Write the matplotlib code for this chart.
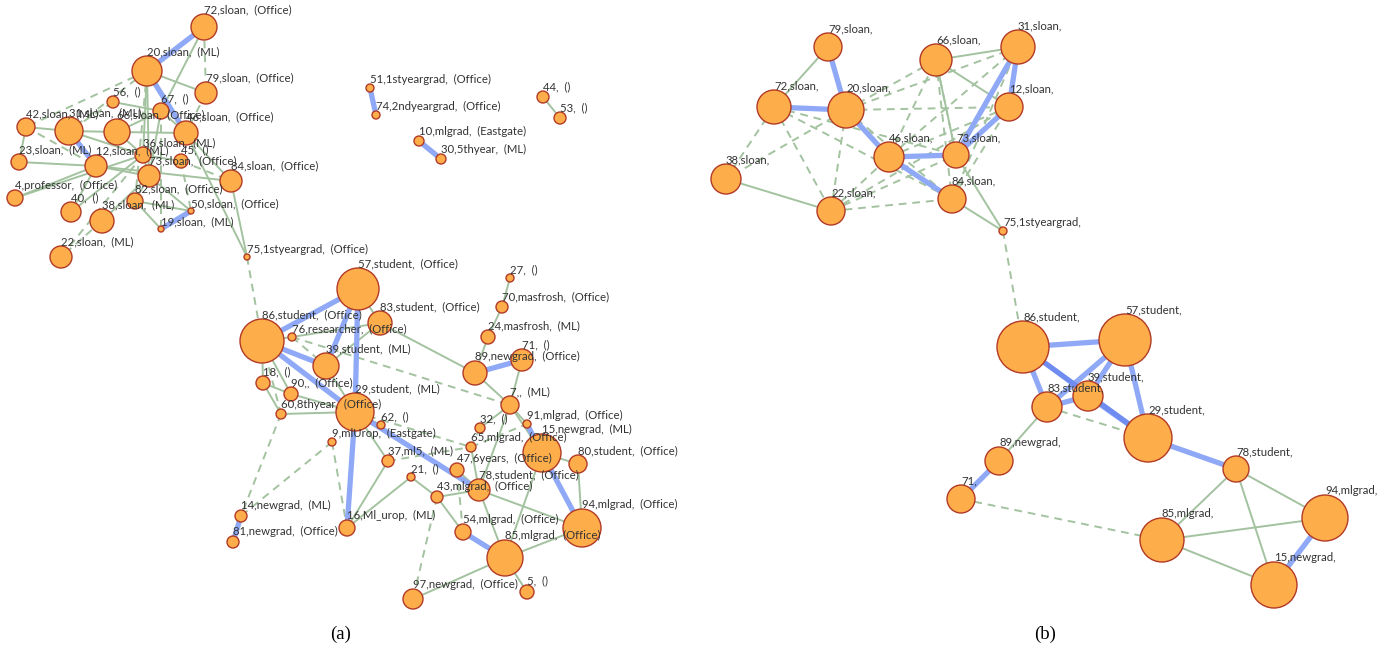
import matplotlib
matplotlib.use("Agg")
import matplotlib.pyplot as plt
from matplotlib.patches import Circle

W, H = 1396, 648

# ---------------- graph (a): all participants ----------------
a_ids = [72, 20, 79, 56, 67, 42, 31, 66, 46, 36, 45, 23, 12, 73, 84, 4, 82, 40, 50, 38,
         19, 22, 75, 51, 74, 44, 53, 10, 30, 57, 83, 86, 76, 39, 18, 90, 29, 60, 62, 27,
         70, 24, 71, 89, 7, 91, 32, 65, 9, 37, 21, 43, 14, 16, 81, 97, 15, 80, 47, 78,
         94, 54, 85, 5]
a_x = [204, 147, 206, 113, 161, 26, 69, 117, 186, 143, 181, 19, 96, 149, 231, 15, 135, 71, 191, 102,
       161, 61, 247, 370, 376, 543, 560, 419, 441, 358, 380, 262, 292, 326, 263, 291, 355, 281, 381, 510,
       502, 488, 522, 475, 510, 527, 480, 471, 332, 388, 411, 437, 241, 347, 233, 413, 542, 578, 457, 479,
       582, 463, 505, 527]
a_y = [27, 71, 93, 102, 111, 127, 131, 132, 133, 155, 161, 162, 166, 176, 181, 198, 201, 212, 211, 221,
       229, 257, 257, 88, 115, 97, 118, 141, 159, 289, 323, 341, 337, 366, 383, 394, 412, 414, 425, 278,
       307, 337, 360, 373, 405, 424, 428, 447, 442, 461, 477, 497, 516, 528, 542, 599, 453, 464, 470, 490,
       528, 532, 558, 592]
a_r = [13, 15, 11, 6, 8, 9, 14, 13, 12, 8, 7, 8, 11, 11, 11, 8, 8, 10, 3, 12,
       3, 11, 3, 4, 4, 6, 6, 5, 5, 21, 12, 22, 4, 13, 7, 7, 19, 5, 4, 4,
       6, 7, 11, 12, 9, 4, 5, 5, 4, 6, 4, 6, 6, 8, 6, 10, 19, 9, 7, 11,
       19, 8, 18, 7]
a_labels = [
    "72,sloan,  (Office)", "20,sloan,  (ML)", "79,sloan,  (Office)", "56,  ()", "67,  ()",
    "42,sloan,  (ML)", "31,sloan,  (ML)", "66,sloan,  (Office)", "46,sloan,  (Office)", "36,sloan,  (ML)",
    "45,  ()", "23,sloan,  (ML)", "12,sloan,  (ML)", "73,sloan,  (Office)", "84,sloan,  (Office)",
    "4,professor,  (Office)", "82,sloan,  (Office)", "40,  ()", "50,sloan,  (Office)", "38,sloan,  (ML)",
    "19,sloan,  (ML)", "22,sloan,  (ML)", "75,1styeargrad,  (Office)", "51,1styeargrad,  (Office)",
    "74,2ndyeargrad,  (Office)", "44,  ()", "53,  ()", "10,mlgrad,  (Eastgate)", "30,5thyear,  (ML)",
    "57,student,  (Office)", "83,student,  (Office)", "86,student,  (Office)", "76,researcher,  (Office)",
    "39,student,  (ML)", "18,  ()", "90,,  (Office)", "29,student,  (ML)", "60,8thyear,  (Office)",
    "62,  ()", "27,  ()", "70,masfrosh,  (Office)", "24,masfrosh,  (ML)", "71,  ()",
    "89,newgrad,  (Office)", "7,,  (ML)", "91,mlgrad,  (Office)", "32,  ()", "65,mlgrad,  (Office)",
    "9,mlUrop,  (Eastgate)", "37,ml5,  (ML)", "21,  ()", "43,mlgrad,  (Office)", "14,newgrad,  (ML)",
    "16,Ml_urop,  (ML)", "81,newgrad,  (Office)", "97,newgrad,  (Office)", "15,newgrad,  (ML)",
    "80,student,  (Office)", "47,6years,  (Office)", "78,student,  (Office)", "94,mlgrad,  (Office)",
    "54,mlgrad,  (Office)", "85,mlgrad,  (Office)", "5,  ()"]

a_strong = [(72, 20), (20, 46), (31, 12), (50, 19), (51, 74), (10, 30), (86, 57), (57, 39),
            (57, 29), (86, 39), (86, 29), (29, 78), (29, 16), (89, 71), (91, 15), (15, 94),
            (54, 85), (14, 81)]
a_solid = [(20, 79), (72, 67), (56, 67), (31, 66), (31, 42), (42, 23), (23, 12), (12, 73),
           (12, 84), (12, 4), (12, 40), (66, 36), (66, 67), (67, 46), (67, 73), (46, 84),
           (36, 73), (73, 82), (73, 38), (82, 19), (84, 75), (46, 75), (73, 50), (20, 73),
           (66, 46), (31, 36), (36, 45), (40, 36), (4, 36), (82, 50), (20, 36), (44, 53),
           (57, 83), (86, 76), (76, 83), (39, 83), (83, 89), (86, 18), (86, 90), (18, 90),
           (18, 60), (90, 29), (60, 29), (39, 29), (29, 62), (29, 37), (37, 16), (21, 43),
           (21, 16), (43, 54), (78, 85), (78, 94), (15, 85), (85, 94), (85, 97), (85, 5),
           (80, 94), (15, 80), (7, 15), (7, 78), (47, 78), (65, 78), (89, 7), (71, 7),
           (24, 89), (70, 24), (27, 70), (32, 7), (91, 7), (43, 78)]
a_dashed = [(72, 79), (20, 42), (20, 31), (20, 82), (42, 12), (79, 46), (45, 50), (38, 22),
            (36, 22), (67, 19), (45, 84), (56, 31), (75, 86), (76, 7), (76, 39), (60, 14),
            (9, 14), (9, 16), (29, 65), (37, 65), (43, 97), (54, 47), (65, 91), (32, 65),
            (86, 60)]

# ---------------- graph (b): strongest ties ----------------
b_ids = [79, 66, 31, 72, 20, 12, 46, 73, 38, 22, 84, 75, 86, 57, 83, 39, 29, 89, 78, 71, 94, 85, 15]
b_x = [828, 936, 1018, 774, 846, 1009, 889, 956, 726, 831, 952, 1003, 1023, 1125, 1047, 1088,
       1148, 999, 1236, 961, 1325, 1162, 1274]
b_y = [47, 60, 47, 107, 110, 107, 157, 155, 179, 211, 199, 231, 347, 340, 407, 396, 438, 461,
       469, 499, 518, 540, 585]
b_r = [14, 16, 17, 17, 18, 14, 15, 13, 15, 14, 14, 4, 26, 26, 15, 15, 24, 14, 13, 14, 23, 22, 23]
b_labels = ["79,sloan,", "66,sloan,", "31,sloan,", "72,sloan,", "20,sloan,", "12,sloan,",
            "46,sloan,", "73,sloan,", "38,sloan,", "22,sloan,", "84,sloan,", "75,1styeargrad,",
            "86,student,", "57,student,", "83,student,", "39,student,", "29,student,",
            "89,newgrad,", "78,student,", "71,", "94,mlgrad,", "85,mlgrad,", "15,newgrad,"]

b_strong = [(79, 20), (72, 20), (20, 46), (46, 73), (46, 84), (31, 73), (31, 12), (12, 73),
            (86, 57), (86, 83), (57, 83), (57, 39), (57, 29), (83, 39), (39, 29), (29, 78),
            (89, 71), (94, 15)]
b_darker = [(86, 29)]
b_solid = [(79, 72), (66, 31), (66, 12), (66, 73), (73, 75), (84, 75), (38, 22), (83, 89),
           (78, 85), (78, 94), (78, 15), (85, 94), (85, 15)]
b_dashed = [(72, 38), (72, 22), (72, 84), (72, 73), (20, 66), (20, 31), (20, 12), (20, 22),
            (20, 38), (20, 84), (46, 66), (46, 31), (46, 12), (22, 46), (22, 73), (22, 84),
            (22, 12), (84, 31), (84, 12), (73, 66), (12, 31), (66, 84), (75, 86), (83, 29),
            (71, 85)]

NODE_FACE = "#fdad4a"
NODE_EDGE = "#b23a26"
GREEN = "#a3c29f"
BLUE = "#8fa9f7"
DARK_BLUE = "#6f8cf0"
TEXT = "#333333"


def draw_graph(ax, ids, xs, ys, rs, labels, strong, solid, dashed, darker=()):
    pos = {i: (x, y) for i, x, y in zip(ids, xs, ys)}

    def seg(edges, **kw):
        for u, v in edges:
            (x0, y0), (x1, y1) = pos[u], pos[v]
            ax.plot([x0, x1], [y0, y1], solid_capstyle="butt", zorder=1, **kw)

    seg(dashed, color=GREEN, lw=1.4, ls=(0, (4, 3)))
    seg(solid, color=GREEN, lw=1.4)
    seg(strong, color=BLUE, lw=3.8)
    seg(darker, color=DARK_BLUE, lw=3.8)

    for x, y, r in zip(xs, ys, rs):
        ax.add_patch(Circle((x, y), r, facecolor=NODE_FACE, edgecolor=NODE_EDGE,
                            lw=1.0, zorder=3))
    for x, y, r, t in zip(xs, ys, rs, labels):
        ax.text(x, y - r + 1, t, fontsize=8.2, family="Lato", fontweight="normal",
                color=TEXT, ha="left", va="bottom", zorder=4)


fig = plt.figure(figsize=(W / 100, H / 100), dpi=100)
ax = fig.add_axes([0, 0, 1, 1])
ax.set_xlim(0, W)
ax.set_ylim(H, 0)
ax.axis("off")

draw_graph(ax, a_ids, a_x, a_y, a_r, a_labels, a_strong, a_solid, a_dashed)
draw_graph(ax, b_ids, b_x, b_y, b_r, b_labels, b_strong, b_solid, b_dashed, b_darker)

ax.text(341, 634, "(a)", fontsize=13.5, family="Liberation Serif", ha="center", va="center",
        color="black")
ax.text(1045, 634, "(b)", fontsize=13.5, family="Liberation Serif", ha="center", va="center",
        color="black")

fig.savefig("out.png", dpi=100, facecolor="white")
